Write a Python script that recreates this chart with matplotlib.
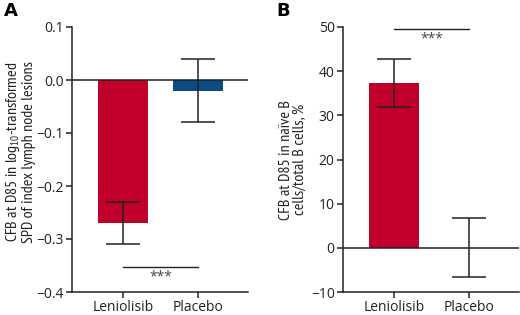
import matplotlib
matplotlib.use("Agg")
import matplotlib.pyplot as plt
from matplotlib import font_manager

groups = ["Leniolisib", "Placebo"]
a_values = [-0.27, -0.02]
a_err_low = [-0.31, -0.08]
a_err_high = [-0.23, 0.04]
b_values = [37.3, 0.0]
b_err_low = [32.0, -6.5]
b_err_high = [42.7, 6.7]
colors = ["#C0002A", "#0B4C84"]
a_yticks = [0.1, 0.0, -0.1, -0.2, -0.3, -0.4]
b_yticks = [50, 40, 30, 20, 10, 0, -10]

regular = {}
for f in font_manager.fontManager.ttflist:
    if f.style == 'normal' and f.weight in (400, 'normal', 'regular', 'book'):
        regular.setdefault(f.name, f.fname)

def pick(cands):
    for c in cands:
        if c in regular:
            return c
    return "DejaVu Sans"

main_font = pick(["Open Sans", "Noto Sans", "Lato"])
narrow_font = pick(["PT Sans Narrow", "Fira Sans Condensed", "Roboto Condensed",
                    "Open Sans Condensed", "Archivo Narrow", "Asap Condensed",
                    "Liberation Sans Narrow"])
plt.rcParams['font.family'] = [main_font, 'DejaVu Sans']
plt.rcParams['axes.unicode_minus'] = True
plt.rcParams['mathtext.fontset'] = 'custom'
plt.rcParams['mathtext.rm'] = narrow_font
plt.rcParams['mathtext.it'] = narrow_font
plt.rcParams['mathtext.bf'] = narrow_font

fig = plt.figure(figsize=(5.2, 3.15), dpi=100)
axA = fig.add_axes([72/520, 1-292/315, (248-72)/520, (292-27)/315])
axB = fig.add_axes([343/520, 1-292/315, (519-343)/520, (292-27)/315])

x = [0, 1]
ink = '#222222'

def draw(ax, vals, lo, hi, barcolors):
    ax.bar(x, vals, width=0.67, color=barcolors, zorder=2)
    yerr = [[v - l for v, l in zip(vals, lo)], [h - v for v, h in zip(vals, hi)]]
    ax.errorbar(x, vals, yerr=yerr, fmt='none', ecolor=ink, elinewidth=1.1,
                capsize=12, capthick=1.1, zorder=3)
    ax.axhline(0, color=ink, lw=1.1, zorder=4)
    ax.set_xlim(-0.68, 1.67)
    ax.set_xticks(x)
    ax.set_xticklabels(groups, fontsize=10)
    for s in ['top', 'right']:
        ax.spines[s].set_visible(False)
    for s in ['left', 'bottom']:
        ax.spines[s].set_linewidth(1.1)
        ax.spines[s].set_color(ink)
    ax.tick_params(axis='both', length=4, width=1.1, color=ink, labelsize=10, pad=2,
                   labelcolor='#222222')

draw(axA, a_values, a_err_low, a_err_high, colors)
axA.set_ylim(-0.4, 0.1)
axA.set_yticks(a_yticks)
axA.set_yticklabels([f"{t:.1f}".replace("-", "\u2212") for t in a_yticks])
axA.plot([0, 1], [-0.352, -0.352], color=ink, lw=1.0)
axA.text(0.5, -0.358, "***", ha='center', va='top', fontsize=10, color='#444444')
axA.set_ylabel("CFB at D85 in log$\\mathregular{_{10}}$-transformed\nSPD of index lymph node lesions",
               fontsize=11.5, linespacing=1.0, family=[narrow_font, 'DejaVu Sans'],
               color='#222222')
axA.yaxis.set_label_coords(-0.205, 0.53)

draw(axB, b_values, b_err_low, b_err_high, [colors[0], colors[0]])
axB.set_ylim(-10, 50)
axB.set_yticks(b_yticks)
axB.set_yticklabels([str(t).replace("-", "\u2212") for t in b_yticks])
axB.plot([0, 1], [49.6, 49.6], color=ink, lw=1.0)
axB.text(0.5, 49.0, "***", ha='center', va='top', fontsize=10, color='#444444')
axB.set_ylabel("CFB at D85 in naïve B\ncells/total B cells, %", fontsize=11.5, labelpad=3,
               linespacing=1.0, family=[narrow_font, 'DejaVu Sans'], color='#222222')

fig.text(4/520, 1-2/315, "A", fontsize=13, fontweight='bold', ha='left', va='top',
         family=['DejaVu Sans'])
fig.text(276/520, 1-2/315, "B", fontsize=13, fontweight='bold', ha='left', va='top',
         family=['DejaVu Sans'])

fig.savefig("out.png", dpi=100)
